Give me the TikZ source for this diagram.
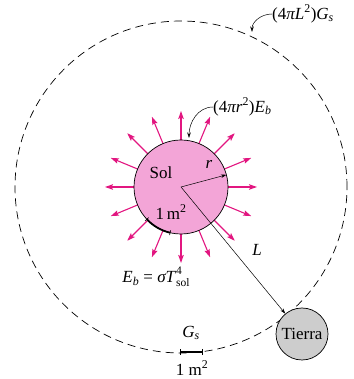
\documentclass[tikz,border=0pt]{standalone}
\usepackage{fontspec}
\setmainfont{Liberation Serif}
\usetikzlibrary{arrows.meta,calc}
\definecolor{sunfill}{RGB}{243,165,215}
\definecolor{ray}{RGB}{226,22,128}
\definecolor{earthfill}{RGB}{205,205,205}
\newcommand{\smallfs}{\fontsize{11.5}{12}\selectfont}
\tikzset{
  lbl/.style={font=\fontsize{17}{19}\selectfont, inner sep=0pt},
  rayarrow/.style={ray, line width=1.1pt, -{Stealth[length=8pt,width=5.5pt,inset=1.5pt]}},
  thinarrow/.style={black, line width=0.5pt, -{Stealth[length=5.5pt,width=3.5pt]}},
  patch/.style={black, line width=1.8pt, {Bar[width=6pt,line width=0.6pt]}-{Bar[width=6pt,line width=0.6pt]}}
}
\begin{document}
\begin{tikzpicture}[x=1pt,y=1pt]
\useasboundingbox (0,0) rectangle (353,379);
\clip (0,0) rectangle (353,379);
\coordinate (c) at (181,192);
% dashed sphere
\draw[dash pattern=on 8pt off 5pt, line width=0.7pt] (c) circle (166);
% rays
\foreach \a in {0,22.5,...,337.5}{
  \draw[rayarrow] ($(c)+(\a:47)$) -- ($(c)+(\a:76)$);
}
% sun
\node[circle, draw, line width=0.7pt, fill=sunfill, minimum size=94pt, inner sep=0pt] (sun) at (c) {};
% earth
\node[circle, draw, line width=0.7pt, fill=earthfill, minimum size=52pt, inner sep=0pt, lbl] (earth) at (302,45) {Tierra};
% L
\draw[thinarrow] (sun.center) -- (earth);
\node[lbl] (Ltxt) at (257,129) {\textit{L}};
% r
\coordinate (redge) at ($(c)+(15:47)$);
\draw[thinarrow] (sun.center) -- (redge);
\node[lbl] (rtxt) at (209,215) {\textit{r}};
\node[lbl] (soltxt) at (161,206) {Sol};
% patch on sun
\draw[black, line width=1.8pt, {Bar[width=5pt,line width=0.6pt]}-{Bar[width=5pt,line width=0.6pt]}] ($(c)+(223:47)$) arc (223:257:47);
\node[lbl] (mtxt) at (171,167) {1\,m\textsuperscript{2}};
% labels
\node[lbl, anchor=west] (Eb) at (213,272) {(4\textit{πr}\textsuperscript{2})\textit{E}\textsubscript{\textit{b}}};
\coordinate (ebtip) at (189,241);
\draw[thinarrow] (Eb.west) to[out=180,in=90] (ebtip);
\node[lbl, anchor=west] (Gs) at (272,365) {(4\textit{πL}\textsuperscript{2})\textit{G}\textsubscript{\textit{s}}};
\coordinate (gstip) at (252,347);
\draw[thinarrow] (Gs.west) to[out=180,in=90] (gstip);
\node[lbl] (eq) at (156,102) {\textit{E}\textsubscript{\textit{b}} = \textit{σT}\rlap{\raisebox{8pt}{\smallfs 4}}\raisebox{-4.5pt}{\smallfs sol}};
% G_s patch
\coordinate (p1) at (180,27);
\coordinate (p2) at (203,27);
\draw[patch] (p1) -- (p2);
\node[lbl] (gslbl) at (191,46) {\textit{G}\textsubscript{\textit{s}}};
\node[lbl] (m2) at (192,11) {1 m\textsuperscript{2}};
\end{tikzpicture}
\end{document}
